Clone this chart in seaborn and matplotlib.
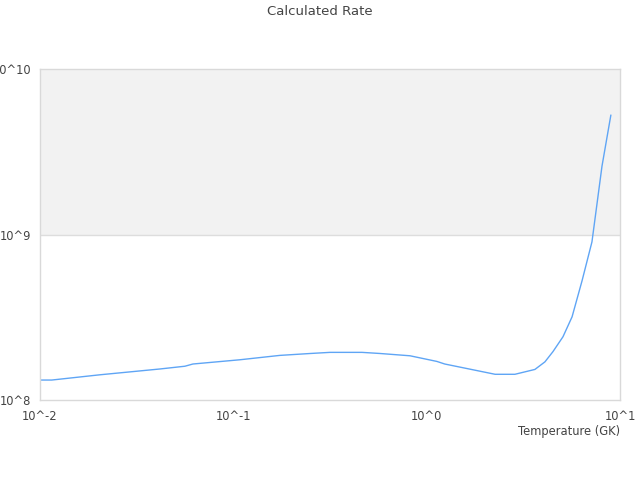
import matplotlib
matplotlib.use("Agg")
import matplotlib.pyplot as plt
import matplotlib.ticker as mticker
import seaborn as sns
import numpy as np
import pandas as pd

# Temperatuur (GK) en berekende rate
temperature = [0.01, 0.0115, 0.0204, 0.0418, 0.0562, 0.0618, 0.108, 0.174, 0.25, 0.316,
               0.463, 0.574, 0.82, 1.13, 1.24, 2.26, 2.86, 3.63, 4.09, 4.5,
               5.07, 5.65, 6.36, 7.16, 8.07, 8.97]
rate = [1.32e8, 1.32e8, 1.42e8, 1.54e8, 1.60e8, 1.65e8, 1.75e8, 1.86e8, 1.91e8, 1.94e8,
        1.94e8, 1.91e8, 1.85e8, 1.71e8, 1.65e8, 1.43e8, 1.43e8, 1.53e8, 1.70e8, 1.96e8,
        2.41e8, 3.18e8, 5.24e8, 9.02e8, 2.59e9, 5.27e9]

df = pd.DataFrame({"temperature": temperature, "rate": rate})

sns.set_style("white")
plt.rcParams["font.family"] = ["DejaVu Sans"]

fig = plt.figure(figsize=(6.4, 4.8), dpi=100)
ax = fig.add_axes([40 / 640, 1 - 400 / 480, 580 / 640, 331 / 480])

ax.axhspan(1e9, 1e10, color="#f2f2f2", zorder=0, lw=0)
sns.lineplot(data=df, x="temperature", y="rate", color="#5fa5f5", linewidth=1, ax=ax)

ax.set_xscale("log")
ax.set_yscale("log")
ax.set_xlim(1e-2, 1e1)
ax.set_ylim(1e8, 1e10)

fmt = mticker.FuncFormatter(lambda v, p: f"10^{int(round(np.log10(v)))}")
ax.xaxis.set_major_locator(mticker.LogLocator(base=10, numticks=10))
ax.yaxis.set_major_locator(mticker.LogLocator(base=10, numticks=10))
ax.xaxis.set_minor_locator(mticker.NullLocator())
ax.yaxis.set_minor_locator(mticker.NullLocator())
ax.xaxis.set_major_formatter(fmt)
ax.yaxis.set_major_formatter(fmt)
ax.tick_params(axis="both", length=0, labelsize=8.3, colors="#444444")
ax.tick_params(axis="y", pad=6.5)
ax.tick_params(axis="x", pad=7)

ax.axhline(1e9, color="#dddddd", lw=1, zorder=1)
for s in ax.spines.values():
    s.set_color("#d9d9d9")
    s.set_linewidth(1)

ax.set_xlabel("Temperature (GK)", loc="right", fontsize=8.3, color="#444444", labelpad=2)
ax.set_ylabel("")
fig.suptitle("Calculated Rate", y=1 - 5 / 480, va="top", fontsize=9.5, color="#444444")

fig.savefig("out.png", dpi=100)
